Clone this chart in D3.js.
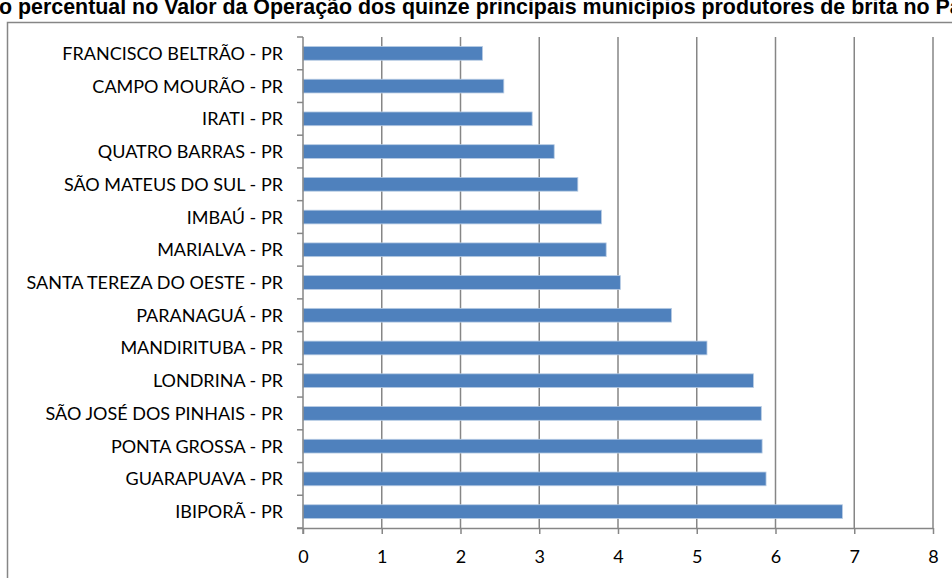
<!DOCTYPE html>
<html>
<head>
<meta charset="utf-8">
<script src="https://cdn.jsdelivr.net/npm/d3@7/dist/d3.min.js"></script>
<style>
  html, body { margin: 0; padding: 0; background: #fff; overflow: hidden; }
  svg { display: block; }
</style>
</head>
<body>
<svg id="chart" width="952" height="578"></svg>
<script>
// Categories listed top to bottom as displayed
const municipios = [
  "FRANCISCO BELTRÃO - PR",
  "CAMPO MOURÃO - PR",
  "IRATI - PR",
  "QUATRO BARRAS - PR",
  "SÃO MATEUS DO SUL - PR",
  "IMBAÚ - PR",
  "MARIALVA - PR",
  "SANTA TEREZA DO OESTE - PR",
  "PARANAGUÁ - PR",
  "MANDIRITUBA - PR",
  "LONDRINA - PR",
  "SÃO JOSÉ DOS PINHAIS - PR",
  "PONTA GROSSA - PR",
  "GUARAPUAVA - PR",
  "IBIPORÃ - PR"
];
const participacao = [2.28, 2.55, 2.91, 3.19, 3.49, 3.79, 3.85, 4.03, 4.68, 5.13, 5.72, 5.82, 5.83, 5.88, 6.85];
const xTicks = [0, 1, 2, 3, 4, 5, 6, 7, 8];
const titulo = "Participação percentual no Valor da Operação dos quinze principais municípios produtores de brita no Paraná";
const tituloPrefixoOculto = "Participaçã";

const svg = d3.select("#chart");
const gray = "#868686";
const labelFont = "Lato, 'Open Sans', sans-serif";

const plot = { left: 303, right: 933, top: 37, bottom: 528 };

// Outer chart frame (extends beyond the window on right and bottom)
svg.append("rect")
  .attr("x", 7.5).attr("y", 22.5)
  .attr("width", 1000).attr("height", 1000)
  .attr("fill", "none").attr("stroke", gray).attr("stroke-width", 1.5);

// Title (clipped by window edges, as in the original)
const t = svg.append("text")
  .attr("y", 14)
  .attr("font-family", "'Liberation Sans', Arial, sans-serif")
  .attr("font-weight", "bold")
  .attr("font-size", 21.4)
  .attr("fill", "#000")
  .text(tituloPrefixoOculto);
const prefW = t.node().getComputedTextLength();
t.text(titulo).attr("x", -prefW - 1);

const x = d3.scaleLinear().domain([0, 8]).range([plot.left, plot.right]);
const y = d3.scaleBand().domain(municipios).range([plot.top, plot.bottom])
  .paddingInner(0.58).paddingOuter(0.29);

// Vertical gridlines
svg.append("g").selectAll("line").data(xTicks.slice(1)).join("line")
  .attr("x1", d => x(d)).attr("x2", d => x(d))
  .attr("y1", plot.top).attr("y2", plot.bottom)
  .attr("stroke", gray).attr("stroke-width", 1.5);

// Bars
svg.append("g").selectAll("rect").data(municipios).join("rect")
  .attr("x", x(0))
  .attr("y", (d) => y(d))
  .attr("width", (d, i) => x(participacao[i]) - x(0))
  .attr("height", y.bandwidth())
  .attr("fill", "#4f81bd")
  .attr("stroke", "#b8cce4")
  .attr("stroke-width", 0.8);

// Bottom axis
const xAxis = d3.axisBottom(x).tickValues(xTicks).tickSize(6).tickPadding(16).tickFormat(d3.format("d"));
const gx = svg.append("g").attr("transform", `translate(0,${plot.bottom})`).call(xAxis);
gx.select(".domain").attr("stroke", gray).attr("stroke-width", 1.5)
  .attr("d", `M${plot.left - 6},0.5H${plot.right}`);
gx.selectAll(".tick line").attr("stroke", gray).attr("stroke-width", 1.5);
gx.selectAll(".tick text").attr("font-family", labelFont).attr("font-size", 18).attr("fill", "#000");

// Left category axis: tick marks at category boundaries
const boundaries = d3.range(municipios.length + 1).map(i => plot.top + i * y.step());
svg.append("line")
  .attr("x1", plot.left).attr("x2", plot.left)
  .attr("y1", plot.top).attr("y2", plot.bottom + 6)
  .attr("stroke", gray).attr("stroke-width", 1.5);
svg.append("g").selectAll("line").data(boundaries).join("line")
  .attr("x1", plot.left - 6).attr("x2", plot.left)
  .attr("y1", d => d).attr("y2", d => d)
  .attr("stroke", gray).attr("stroke-width", 1.5);

// Category labels
svg.append("g").selectAll("text").data(municipios).join("text")
  .attr("x", plot.left - 20)
  .attr("y", d => y(d) + y.bandwidth() / 2)
  .attr("dy", "0.36em")
  .attr("text-anchor", "end")
  .attr("font-family", labelFont)
  .attr("font-size", 18)
  .attr("fill", "#000")
  .text(d => d);
</script>
</body>
</html>
